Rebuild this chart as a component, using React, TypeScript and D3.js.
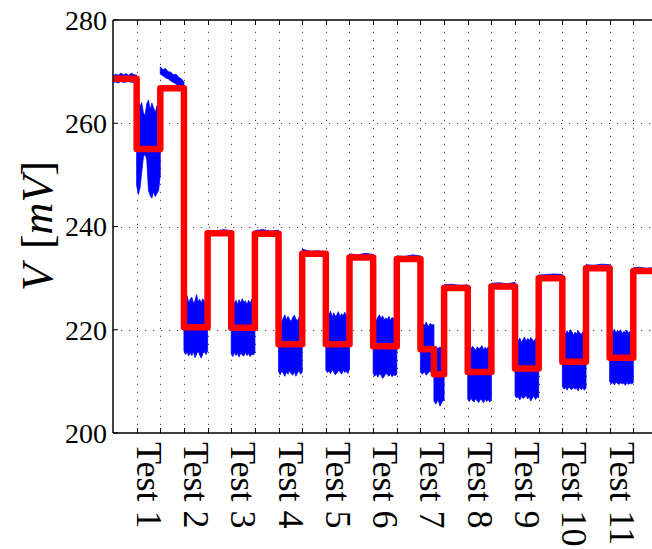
import React from 'react';
import * as d3 from 'd3';

const W = 652;
const H = 549;
const PLOT_LEFT = 113;
const PLOT_TOP = 20;
const PLOT_BOTTOM = 433;
const UNIT_PX = 23.65;
const X_MAX = 23;

// y axis ticks (mV)
const yTicks = [200, 220, 240, 260, 280];
const yGrid = [220, 240, 260];
// x grid / tick positions (segment units)
const xTicks = [1, 2, 3, 4, 5, 6, 7, 8, 9, 10, 11, 12, 13, 14, 15, 16, 17, 18, 19, 20, 21, 22];
const testLabels = ['Test 1', 'Test 2', 'Test 3', 'Test 4', 'Test 5', 'Test 6', 'Test 7', 'Test 8', 'Test 9', 'Test 10', 'Test 11'];
const testPositions = [1, 3, 5, 7, 9, 11, 13, 15, 17, 19, 21];

// red step (model) line: segment edges and levels
const redEdges = [0, 1, 2, 3, 4, 5, 6, 7, 8, 9, 10, 11, 12, 13, 13.57, 14, 15, 16, 17, 18, 19, 20, 21, 22, 22.8];
const redLevels = [268.6, 255.0, 266.8, 220.5, 238.7, 220.4, 238.6, 217.2, 234.7, 217.2, 234.0, 216.8, 233.7, 216.2, 211.4, 228.1, 211.8, 228.4, 212.5, 230.0, 213.8, 231.9, 214.6, 231.4];

// blue (measured) envelope: per segment, upper and lower values
const blueEdges = [0, 1, 2, 3, 4, 5, 6, 7, 8, 9, 10, 11, 12, 13, 13.57, 14, 15, 16, 17, 18, 19, 20, 21, 22, 22.8];
const blueUpper = [
  [269.2, 269.5, 269.3, 269.7, 269.4, 269.6, 269.3, 269.7, 269.4, 269.3],
  [262.5, 264.8, 263.2, 264.0, 262.0, 261.5, 263.8, 264.5, 262.5, 263.9, 263.0, 262.0, 263.4, 261.0, 258.0],
  [270.9, 270.4, 270.6, 270.0, 269.9, 269.4, 269.5, 268.9, 268.6, 268.0],
  [225.0, 225.8, 226.6, 225.2, 225.9, 226.3, 225.1, 225.6, 226.8, 225.4, 225.9, 225.2, 226.0, 225.5, 224.8, 225.6],
  [239.3, 239.1, 239.4, 239.2],
  [225.4, 225.9, 225.0, 225.7, 224.9, 225.8, 225.2, 226.0, 225.3, 225.6, 224.8, 225.7, 225.1, 225.9, 225.3, 225.0],
  [239.2, 239.4, 239.1, 239.3],
  [221.8, 222.7, 221.5, 222.3, 222.9, 221.9, 222.6, 222.0, 221.6, 222.4, 222.8, 222.1, 221.7, 222.5, 222.0, 221.8],
  [235.6, 235.2, 235.3, 235.1],
  [222.5, 223.4, 222.8, 223.6, 222.4, 223.3, 222.6, 222.9, 223.5, 222.5, 223.1, 222.7, 223.4, 222.6, 223.0, 222.4],
  [234.7, 234.5, 234.8, 234.6],
  [222.0, 222.6, 221.8, 222.4, 222.9, 222.1, 222.7, 221.9, 222.3, 222.0, 222.6, 221.8, 222.4, 222.1, 222.5, 221.6],
  [234.3, 234.2, 234.5, 234.3],
  [220.5, 221.3, 220.8, 221.5, 220.6, 221.2, 220.9, 221.0],
  [216.0, 216.8, 216.3, 216.7, 216.2, 216.6],
  [228.7, 228.8, 228.6, 228.7],
  [216.0, 216.6, 216.2, 216.8, 216.4, 216.0, 216.7, 216.3, 216.5, 216.9, 216.1, 216.6, 216.2, 216.7, 216.3, 216.1],
  [229.0, 229.1, 228.9, 229.2],
  [217.5, 218.2, 217.8, 218.4, 217.6, 218.0, 218.6, 217.7, 218.3, 217.9, 218.5, 218.1, 217.7, 218.3, 217.9, 218.1],
  [230.6, 230.7, 230.8, 230.7],
  [219.0, 219.6, 219.2, 219.8, 219.3, 220.0, 219.7, 218.9, 219.5, 219.2, 219.8, 219.4, 219.1, 219.6, 219.2, 219.4],
  [232.6, 232.5, 232.7, 232.6],
  [219.3, 219.9, 219.5, 220.1, 219.4, 219.8, 219.6, 220.0, 219.2, 219.7, 219.5, 219.9, 219.3, 219.7, 219.4, 219.5],
  [232.0, 232.1, 231.9, 232.0],
];
const blueLower = [
  [267.9, 268.0, 267.8, 268.1, 267.9, 268.0, 268.1, 267.9, 268.0, 268.0],
  [248.0, 246.2, 247.5, 250.5, 253.5, 254.0, 253.0, 247.0, 246.0, 245.5, 246.8, 245.8, 246.4, 247.0, 250.0],
  [269.5, 269.2, 268.8, 268.6, 268.2, 267.9, 267.6, 267.2, 266.9, 266.5],
  [216.0, 215.2, 215.7, 214.9, 215.5, 215.0, 215.8, 214.6, 215.3, 215.9, 215.1, 214.5, 215.4, 215.8, 215.2, 215.9],
  [238.5, 238.6, 238.5, 238.6],
  [215.3, 214.8, 215.6, 215.0, 215.4, 214.7, 215.5, 215.1, 214.9, 215.6, 215.0, 215.4, 214.8, 215.3, 215.1, 215.6],
  [238.4, 238.5, 238.4, 238.5],
  [211.9, 211.3, 212.0, 211.6, 211.0, 211.8, 211.4, 212.1, 211.5, 211.2, 211.9, 211.0, 211.6, 212.1, 211.4, 211.8],
  [234.5, 234.6, 234.5, 234.6],
  [212.2, 211.7, 212.0, 211.5, 212.3, 211.8, 211.3, 211.6, 212.1, 211.9, 211.4, 212.2, 211.7, 212.0, 211.5, 212.4],
  [233.8, 233.9, 233.8, 233.9],
  [211.6, 211.0, 211.4, 210.8, 211.5, 211.2, 210.6, 210.9, 211.6, 211.3, 211.0, 211.5, 210.9, 211.3, 211.1, 211.4],
  [233.5, 233.6, 233.5, 233.6],
  [211.8, 211.4, 211.9, 211.2, 211.6, 212.0, 211.5, 211.8],
  [206.2, 205.6, 206.5, 205.2, 206.0, 206.4],
  [227.9, 228.0, 227.9, 228.0],
  [206.6, 206.1, 206.8, 206.3, 206.0, 206.7, 206.2, 205.9, 206.5, 206.4, 205.8, 206.6, 206.1, 206.5, 206.0, 206.5],
  [228.2, 228.3, 228.2, 228.3],
  [207.2, 206.8, 207.0, 206.4, 207.1, 206.7, 206.9, 207.3, 206.6, 207.0, 206.2, 206.8, 207.1, 206.5, 207.0, 206.8],
  [229.8, 229.9, 229.8, 229.9],
  [209.0, 208.5, 208.8, 208.3, 208.9, 208.6, 208.4, 208.8, 208.5, 208.7, 208.2, 208.9, 208.4, 208.7, 208.3, 208.7],
  [231.7, 231.8, 231.7, 231.8],
  [210.0, 209.5, 209.8, 209.3, 209.9, 209.6, 209.4, 209.8, 209.5, 209.7, 209.2, 209.8, 209.4, 209.7, 209.5, 209.8],
  [231.2, 231.3, 231.2, 231.3],
];

const FONT = '"Liberation Serif", "Times New Roman", serif';

export default function App() {
  const x = d3.scaleLinear().domain([0, X_MAX]).range([PLOT_LEFT, PLOT_LEFT + X_MAX * UNIT_PX]);
  const y = d3.scaleLinear().domain([200, 280]).range([PLOT_BOTTOM, PLOT_TOP]);
  const plotRight = x(X_MAX);

  const redPts: [number, number][] = [];
  redLevels.forEach((v, i) => {
    redPts.push([redEdges[i], v]);
    redPts.push([redEdges[i + 1], v]);
  });
  const redLine = d3.line<[number, number]>().x((d) => x(d[0])).y((d) => y(d[1]));

  const area = d3
    .area<{ u: number; hi: number; lo: number }>()
    .x((d) => x(d.u))
    .y0((d) => y(d.lo))
    .y1((d) => y(d.hi));

  const bluePaths = blueUpper.map((hi, i) => {
    const a = blueEdges[i];
    const b = blueEdges[i + 1];
    const lo = blueLower[i];
    const n = hi.length;
    const pts = hi.map((h, k) => ({ u: a + ((b - a) * k) / (n - 1), hi: h, lo: lo[k] }));
    return area(pts) as string;
  });

  return (
    <svg width={W} height={H} style={{ position: 'absolute', left: 0, top: 0, background: '#fff' }} fontFamily={FONT}>
      <defs>
        <clipPath id="plotclip">
          <rect x={PLOT_LEFT} y={PLOT_TOP} width={plotRight - PLOT_LEFT} height={PLOT_BOTTOM - PLOT_TOP} />
        </clipPath>
      </defs>
      {/* grid */}
      <g stroke="#444" strokeWidth={1} strokeDasharray="1.2,6.8">
        {xTicks.map((t) => (
          <line key={'gx' + t} x1={Math.round(x(t)) + 0.5} x2={Math.round(x(t)) + 0.5} y1={PLOT_BOTTOM} y2={PLOT_TOP} />
        ))}
        {yGrid.map((t) => (
          <line key={'gy' + t} x1={PLOT_LEFT} x2={plotRight} y1={Math.round(y(t)) + 0.5} y2={Math.round(y(t)) + 0.5} />
        ))}
      </g>
      {/* measured */}
      <g clipPath="url(#plotclip)">
        {bluePaths.map((p, i) => (
          <path key={'b' + i} d={p} fill="#0000ff" stroke="#0000ff" strokeWidth={0.8} />
        ))}
        <path d={redLine(redPts) as string} fill="none" stroke="#ff0000" strokeWidth={6.5} strokeLinejoin="round" strokeLinecap="butt" />
      </g>
      {/* ticks */}
      <g stroke="#000" strokeWidth={1}>
        {xTicks.map((t) => (
          <g key={'tx' + t}>
            <line x1={Math.round(x(t)) + 0.5} x2={Math.round(x(t)) + 0.5} y1={PLOT_BOTTOM} y2={PLOT_BOTTOM - 5} />
            <line x1={Math.round(x(t)) + 0.5} x2={Math.round(x(t)) + 0.5} y1={PLOT_TOP} y2={PLOT_TOP + 5} />
          </g>
        ))}
        {yTicks.map((t) => (
          <line key={'ty' + t} x1={PLOT_LEFT} x2={PLOT_LEFT + 5} y1={y(t)} y2={y(t)} />
        ))}
      </g>
      {/* frame */}
      <g stroke="#000" strokeWidth={1.5} fill="none">
        <line x1={PLOT_LEFT} x2={plotRight} y1={PLOT_TOP} y2={PLOT_TOP} />
        <line x1={PLOT_LEFT} x2={plotRight} y1={PLOT_BOTTOM} y2={PLOT_BOTTOM} />
        <line x1={PLOT_LEFT} x2={PLOT_LEFT} y1={PLOT_TOP} y2={PLOT_BOTTOM} />
      </g>
      {/* y tick labels */}
      {yTicks.map((t) => (
        <text key={'yl' + t} x={PLOT_LEFT - 6} y={y(t)} dy="0.35em" textAnchor="end" fontSize={28} fill="#000">
          {t}
        </text>
      ))}
      {/* x tick labels */}
      {testLabels.map((lab, i) => (
        <text
          key={lab}
          transform={`translate(${x(testPositions[i])},${PLOT_BOTTOM + 9}) rotate(90)`}
          fontSize={36}
          fill="#000"
          textAnchor="start"
        >
          {lab}
        </text>
      ))}
      {/* y axis label */}
      <text transform={`translate(52,226) rotate(-90)`} fontSize={44} textAnchor="middle" fill="#000">
        <tspan fontStyle="italic">V</tspan>
        <tspan dx={4}> [</tspan>
        <tspan fontStyle="italic">mV</tspan>
        <tspan>]</tspan>
      </text>
    </svg>
  );
}
